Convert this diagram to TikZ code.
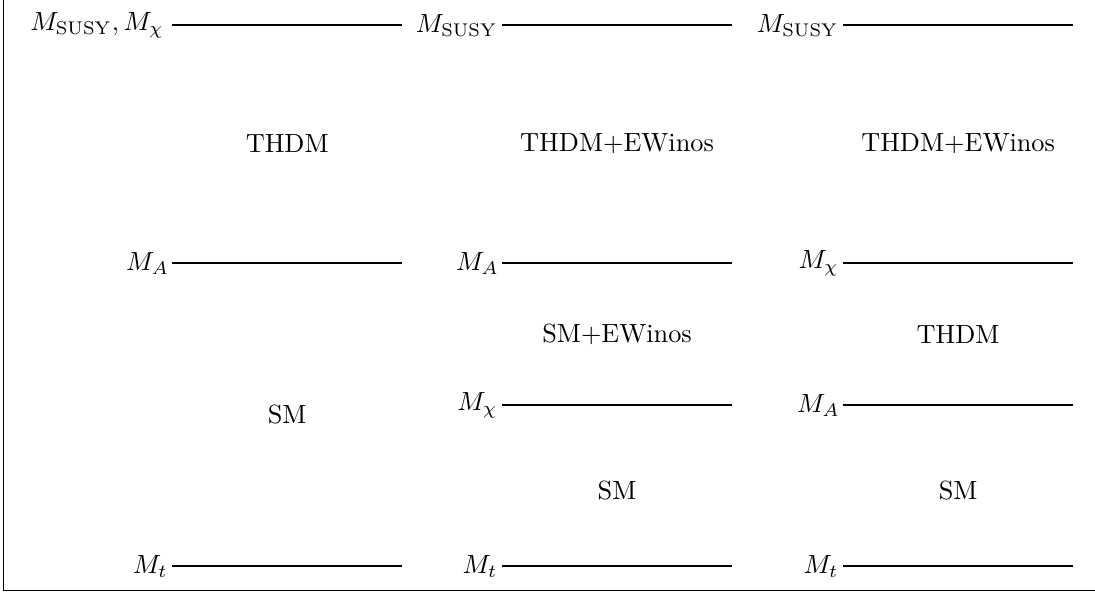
\documentclass[tikz,border=0pt]{standalone}
\usepackage{tikz}
\usetikzlibrary{positioning}
\usepackage{amsmath}

\tikzset{
  level/.style={line width=0.8pt},
  scalelbl/.style={inner sep=0pt},
  eft/.style={inner sep=0pt}
}

\begin{document}
\begin{tikzpicture}
  \useasboundingbox (0,0) rectangle (14.64,7.92);
  \draw (0.05,7.92) |- (14.64,0.03);

  % level ends
  \coordinate (susyA) at (2.30,7.58);  \coordinate (susyAend) at (5.37,7.58);
  \coordinate (mAA)   at (2.30,4.40);  \coordinate (mAAend)   at (5.37,4.40);
  \coordinate (mtA)   at (2.30,0.35);  \coordinate (mtAend)   at (5.37,0.35);

  \coordinate (susyB) at (6.71,7.58);  \coordinate (susyBend) at (9.79,7.58);
  \coordinate (mAB)   at (6.71,4.40);  \coordinate (mABend)   at (9.79,4.40);
  \coordinate (mchiB) at (6.71,2.50);  \coordinate (mchiBend) at (9.79,2.50);
  \coordinate (mtB)   at (6.71,0.35);  \coordinate (mtBend)   at (9.79,0.35);

  \coordinate (susyC) at (11.27,7.58); \coordinate (susyCend) at (14.35,7.58);
  \coordinate (mchiC) at (11.27,4.40); \coordinate (mchiCend) at (14.35,4.40);
  \coordinate (mAC)   at (11.27,2.50); \coordinate (mACend)   at (14.35,2.50);
  \coordinate (mtC)   at (11.27,0.35); \coordinate (mtCend)   at (14.35,0.35);

  % scale labels
  \node[scalelbl, left=3pt of susyA] (lsusyA) {$M_{\mathrm{SUSY}}, M_\chi$};
  \node[scalelbl, left=1pt of mAA]   (lmAA)   {$M_A$};
  \node[scalelbl, left=1.5pt of mtA] (lmtA)   {$M_t$};
  \node[scalelbl, left=1.5pt of susyB] (lsusyB) {$M_{\mathrm{SUSY}}$};
  \node[scalelbl, left=1pt of mAB]   (lmAB)   {$M_A$};
  \node[scalelbl, left=1.5pt of mchiB] (lmchiB) {$M_\chi$};
  \node[scalelbl, left=1.5pt of mtB] (lmtB)   {$M_t$};
  \node[scalelbl, left=1.5pt of susyC] (lsusyC) {$M_{\mathrm{SUSY}}$};
  \node[scalelbl, left=1.5pt of mchiC] (lmchiC) {$M_\chi$};
  \node[scalelbl, left=1pt of mAC]   (lmAC)   {$M_A$};
  \node[scalelbl, left=1.5pt of mtC] (lmtC)   {$M_t$};

  % levels
  \draw[level] (susyA) -- (susyAend);
  \draw[level] (mAA) -- (mAAend);
  \draw[level] (mtA) -- (mtAend);
  \draw[level] (susyB) -- (susyBend);
  \draw[level] (mAB) -- (mABend);
  \draw[level] (mchiB) -- (mchiBend);
  \draw[level] (mtB) -- (mtBend);
  \draw[level] (susyC) -- (susyCend);
  \draw[level] (mchiC) -- (mchiCend);
  \draw[level] (mAC) -- (mACend);
  \draw[level] (mtC) -- (mtCend);

  % effective theories
  \node[eft] (thdmA)    at (3.84,6.00)  {THDM};
  \node[eft] (smA)      at (3.84,2.38)  {SM};
  \node[eft] (thdmewB)  at (8.25,6.00)  {THDM+EWinos};
  \node[eft] (smewB)    at (8.25,3.45)  {SM+EWinos};
  \node[eft] (smB)      at (8.25,1.36)  {SM};
  \node[eft] (thdmewC)  at (12.81,6.00) {THDM+EWinos};
  \node[eft] (thdmC)    at (12.81,3.45) {THDM};
  \node[eft] (smC)      at (12.81,1.36) {SM};
\end{tikzpicture}
\end{document}
